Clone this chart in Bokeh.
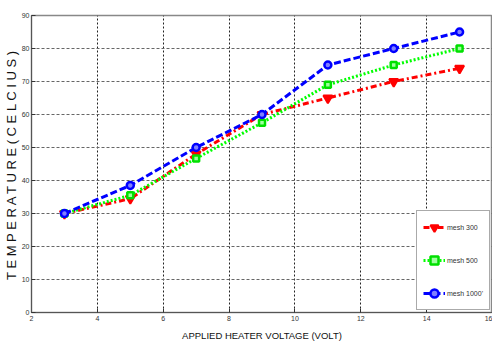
from bokeh.plotting import figure
from bokeh.models import Range1d, FixedTicker, Legend, LegendItem
from bokeh.embed import file_html
from bokeh.resources import INLINE

voltage = [3, 5, 7, 9, 11, 13, 15]
mesh300 = [30, 34.5, 48, 60, 65, 70, 74]
mesh500 = [30, 35.5, 46.7, 57.5, 69, 75, 80]
mesh1000 = [30, 38.5, 50, 60, 75, 80, 85]
labels = ["mesh 300", "mesh 500", "mesh 1000'"]
x_ticks = [2, 4, 6, 8, 10, 12, 14, 16]
y_ticks = [0, 10, 20, 30, 40, 50, 60, 70, 80, 90]

FONT = "Liberation Sans"

p = figure(width=492, height=347, output_backend="svg", toolbar_location=None,
           x_range=Range1d(2, 16), y_range=Range1d(0, 90),
           min_border_left=27, min_border_right=0, min_border_top=15, min_border_bottom=35)
p.background_fill_color = "white"
p.border_fill_color = "white"
p.outline_line_color = "#888888"
p.outline_line_width = 1.5

for ax in (p.xaxis[0], p.yaxis[0]):
    ax.major_tick_in = 4
    ax.major_tick_out = 0
    ax.minor_tick_in = 0
    ax.minor_tick_out = 0
    ax.axis_line_color = "#555555"
    ax.major_tick_line_color = "#333333"
    ax.major_label_text_font = FONT
    ax.major_label_text_font_size = "7px"
    ax.major_label_text_color = "#333333"
    ax.axis_label_text_font = FONT
    ax.axis_label_text_font_style = "normal"
    ax.axis_label_text_color = "#111111"

p.xaxis.ticker = FixedTicker(ticks=x_ticks)
p.yaxis.ticker = FixedTicker(ticks=y_ticks)
p.xaxis.axis_label = "APPLIED HEATER VOLTAGE (VOLT)"
p.xaxis.axis_label_text_font_size = "9.5px"
p.xaxis.major_label_standoff = 3
p.xaxis.axis_label_standoff = 6
p.yaxis.axis_label = "T E M P E R A T U R E ( C E L C I U S )"
p.yaxis.axis_label_text_font_size = "13px"
p.yaxis.major_label_standoff = 2
p.yaxis.axis_label_standoff = 0

p.xgrid.grid_line_color = "#222222"
p.xgrid.grid_line_dash = "2 2"
p.xgrid.grid_line_width = 1
p.ygrid.grid_line_color = "#666666"
p.ygrid.grid_line_dash = "3 2"
p.ygrid.grid_line_width = 1

r_l = p.line(voltage, mesh300, line_color="#ff0000", line_width=3, line_dash="6 3 2 3")
r_m = p.scatter(voltage, mesh300, marker="inverted_triangle", size=9,
                line_color="#ff0000", fill_color="#ff0000", line_width=2)
g_l = p.line(voltage, mesh500, line_color="#00ff00", line_width=3, line_dash="2 2")
g_m = p.scatter(voltage, mesh500, marker="square", size=6,
                line_color="#00e000", fill_color="#a0ffa0", line_width=2.5)
b_l = p.line(voltage, mesh1000, line_color="#0000ff", line_width=3, line_dash="7 3")
b_m = p.scatter(voltage, mesh1000, marker="circle", size=7,
                line_color="#0000ff", fill_color="#8080ff", line_width=2.5)

legend = Legend(items=[
    LegendItem(label=labels[0], renderers=[r_l, r_m]),
    LegendItem(label=labels[1], renderers=[g_l, g_m]),
    LegendItem(label=labels[2], renderers=[b_l, b_m]),
], location=(385, 2))
legend.label_text_font = FONT
legend.label_text_font_size = "7px"
legend.label_text_color = "#333333"
legend.glyph_width = 22
legend.glyph_height = 20
legend.spacing = 13
legend.padding = 6
legend.margin = 0
legend.label_standoff = 2
legend.border_line_color = "#555555"
legend.border_line_width = 1
legend.background_fill_alpha = 1
p.add_layout(legend, "center")

open("out.html", "w").write(file_html(p, INLINE))
